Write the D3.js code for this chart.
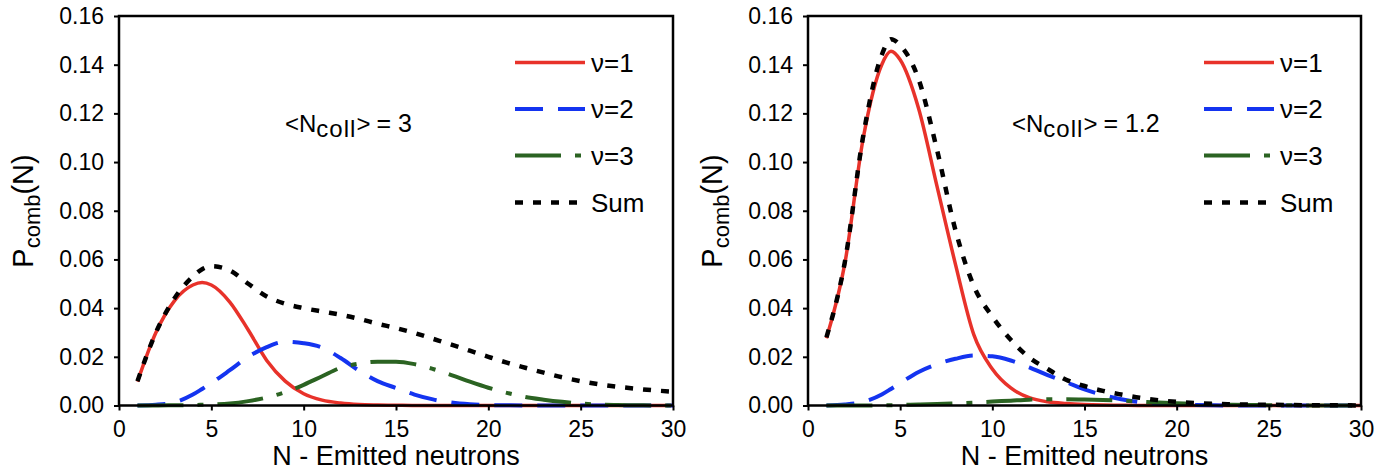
<!DOCTYPE html>
<html>
<head>
<meta charset="utf-8">
<script src="https://cdn.jsdelivr.net/npm/d3@7"></script>
<style>
  body { margin: 0; background: #fff; }
  text { font-family: "Liberation Sans", Arial, sans-serif; fill: #000; }
</style>
</head>
<body>
<div id="chart"></div>
<script>
// emitted neutron number grid (4.5 added to catch the peak)
var nGrid = [1, 2, 3, 4, 4.5, 5, 6, 7, 8, 9, 10, 11, 12, 13, 14, 15, 16, 17, 18, 19, 20,
             21, 22, 23, 24, 25, 26, 27, 28, 29, 30];

// <Ncoll> = 3
var left_nu1 = [0.0098, 0.0300, 0.0430, 0.0495, 0.0505, 0.0495, 0.0425, 0.0310, 0.0185, 0.0100, 0.0048,
                0.0022, 0.0010, 0.0004, 0.0002, 0.0001, 0, 0, 0, 0, 0, 0, 0, 0, 0, 0, 0, 0, 0, 0, 0];
var left_nu2 = [0, 0.0003, 0.0013, 0.0045, 0.0068, 0.0092, 0.0145, 0.0200, 0.0240, 0.0262, 0.0256,
                0.0238, 0.0195, 0.0143, 0.0100, 0.0072, 0.0045, 0.0025, 0.0012, 0.0005, 0.0002,
                0.0001, 0, 0, 0, 0, 0, 0, 0, 0, 0];
var left_nu3 = [0, 0, 0.0001, 0.0002, 0.0003, 0.0004, 0.0008, 0.0018, 0.0033, 0.0055, 0.0085,
                0.0120, 0.0155, 0.0172, 0.0180, 0.0180, 0.0170, 0.0150, 0.0125, 0.0098, 0.0073,
                0.0052, 0.0035, 0.0024, 0.0015, 0.0008, 0.0004, 0.0002, 0.0001, 0, 0];
var left_sum = [0.0100, 0.0300, 0.0440, 0.0530, 0.0560, 0.0572, 0.0555, 0.0500, 0.0448, 0.0418, 0.0400,
                0.0386, 0.0373, 0.0356, 0.0336, 0.0318, 0.0298, 0.0274, 0.0250, 0.0225, 0.0200,
                0.0176, 0.0155, 0.0135, 0.0116, 0.0100, 0.0087, 0.0077, 0.0069, 0.0062, 0.0057];

// <Ncoll> = 1.2
var right_nu1 = [0.0276, 0.0584, 0.1100, 0.1400, 0.1455, 0.1420, 0.1220, 0.0900, 0.0580, 0.0290, 0.0150,
                 0.0072, 0.0032, 0.0015, 0.0008, 0.0004, 0.0002, 0.0001, 0, 0, 0, 0, 0, 0, 0, 0, 0, 0, 0, 0, 0];
var right_nu2 = [0, 0.0004, 0.0015, 0.0045, 0.0068, 0.0092, 0.0138, 0.0170, 0.0192, 0.0205, 0.0202,
                 0.0185, 0.0157, 0.0125, 0.0096, 0.0066, 0.0043, 0.0026, 0.0014, 0.0008, 0.0004,
                 0.0002, 0.0001, 0, 0, 0, 0, 0, 0, 0, 0];
var right_nu3 = [0, 0, 0, 0.0001, 0.0001, 0.0002, 0.0004, 0.0006, 0.0009, 0.0012, 0.0016,
                 0.0020, 0.0024, 0.0026, 0.0026, 0.0025, 0.0023, 0.0020, 0.0016, 0.0012, 0.0009,
                 0.0007, 0.0005, 0.0003, 0.0002, 0.0001, 0.0001, 0, 0, 0, 0];
var right_sum = [0.0280, 0.0590, 0.1110, 0.1440, 0.1505, 0.1480, 0.1340, 0.1050, 0.0720, 0.0490, 0.0365,
                 0.0270, 0.0197, 0.0150, 0.0106, 0.0080, 0.0060, 0.0045, 0.0032, 0.0022, 0.0015,
                 0.0010, 0.0007, 0.0005, 0.0004, 0.0003, 0.0002, 0.0001, 0.0001, 0.0001, 0];

var seriesNames = ["\u03bd=1", "\u03bd=2", "\u03bd=3", "Sum"];
var xTicks = [0, 5, 10, 15, 20, 25, 30];
var yTicks = [0, 0.02, 0.04, 0.06, 0.08, 0.10, 0.12, 0.14, 0.16];

var styles = [
  {color: "#e8322a", width: 3.5, dash: null},
  {color: "#1434f0", width: 4, dash: "28,15"},
  {color: "#2b6322", width: 4, dash: "46,14,6,14"},
  {color: "#000000", width: 4.5, dash: "8,10"}
];

var W = 1387, H = 470;
var svg = d3.select("#chart").append("svg")
  .attr("width", W)
  .attr("height", H);

function drawPanel(p) {
  var x = d3.scaleLinear().domain([0, 30]).range([p.x0, p.x1]);
  var y = d3.scaleLinear().domain([0, 0.16]).range([405.5, 16]);
  var g = svg.append("g");

  var line = d3.line()
    .x(function(d) { return x(d[0]); })
    .y(function(d) { return y(d[1]); })
    .curve(d3.curveMonotoneX);

  // curves
  p.series.forEach(function(vals, i) {
    var pts = nGrid.map(function(n, j) { return [n, vals[j]]; });
    g.append("path")
      .datum(pts)
      .attr("d", line)
      .attr("fill", "none")
      .attr("stroke", styles[i].color)
      .attr("stroke-width", styles[i].width)
      .attr("stroke-dasharray", styles[i].dash);
  });

  // axes
  var ya = g.append("g")
    .attr("transform", "translate(" + p.x0 + ",0)")
    .call(d3.axisLeft(y).tickValues(yTicks).tickFormat(d3.format(".2f")).tickSize(5).tickPadding(10));
  var xa = g.append("g")
    .attr("transform", "translate(0,405.5)")
    .call(d3.axisBottom(x).tickValues(xTicks).tickSize(5).tickPadding(10));
  [ya, xa].forEach(function(a) {
    a.select(".domain").remove();
    a.selectAll(".tick line").attr("stroke", "#000").attr("stroke-width", 2);
    a.selectAll(".tick text").style("font-size", "23px").style("font-family", "'Liberation Sans', Arial, sans-serif");
  });

  // frame
  g.append("rect")
    .attr("x", p.x0).attr("y", 16)
    .attr("width", p.x1 - p.x0).attr("height", 405.5 - 16)
    .attr("fill", "none").attr("stroke", "#000").attr("stroke-width", 2.5);

  // axis titles
  g.append("text")
    .attr("x", (p.x0 + p.x1) / 2).attr("y", 465)
    .attr("text-anchor", "middle")
    .style("font-size", "27px")
    .text("N - Emitted neutrons");

  var yl = g.append("text")
    .attr("transform", "translate(" + p.ylx + ",211) rotate(-90)")
    .attr("text-anchor", "middle")
    .style("font-size", "29px");
  yl.append("tspan").text("P");
  yl.append("tspan").attr("dy", 7).style("font-size", "22px").text("comb");
  yl.append("tspan").attr("dy", -7).text("(N)");

  // <Ncoll> note
  var t = g.append("text")
    .attr("x", p.noteX).attr("y", 132)
    .style("font-size", "24px");
  t.append("tspan").text("<N");
  t.append("tspan").attr("dy", 5).style("font-size", "24px").style("letter-spacing", "1px").text("coll");
  t.append("tspan").attr("dy", -5).text(">");
  t.append("tspan").attr("dx", 6).style("font-size", "25px").text("= " + p.note);

  // legend
  var rows = [62.5, 109, 155.5, 202.5];
  seriesNames.forEach(function(name, i) {
    g.append("line")
      .attr("x1", p.legX).attr("x2", p.legX + 70)
      .attr("y1", rows[i]).attr("y2", rows[i])
      .attr("stroke", styles[i].color)
      .attr("stroke-width", styles[i].width)
      .attr("stroke-dasharray", styles[i].dash);
    g.append("text")
      .attr("x", p.legX + 76).attr("y", rows[i] + 9)
      .style("font-size", "26px")
      .text(name);
  });
}

drawPanel({x0: 119, x1: 673, ylx: 33, noteX: 285, note: "3", legX: 515,
           series: [left_nu1, left_nu2, left_nu3, left_sum]});
drawPanel({x0: 808, x1: 1361, ylx: 722, noteX: 1012, note: "1.2", legX: 1204,
           series: [right_nu1, right_nu2, right_nu3, right_sum]});
</script>
</body>
</html>
